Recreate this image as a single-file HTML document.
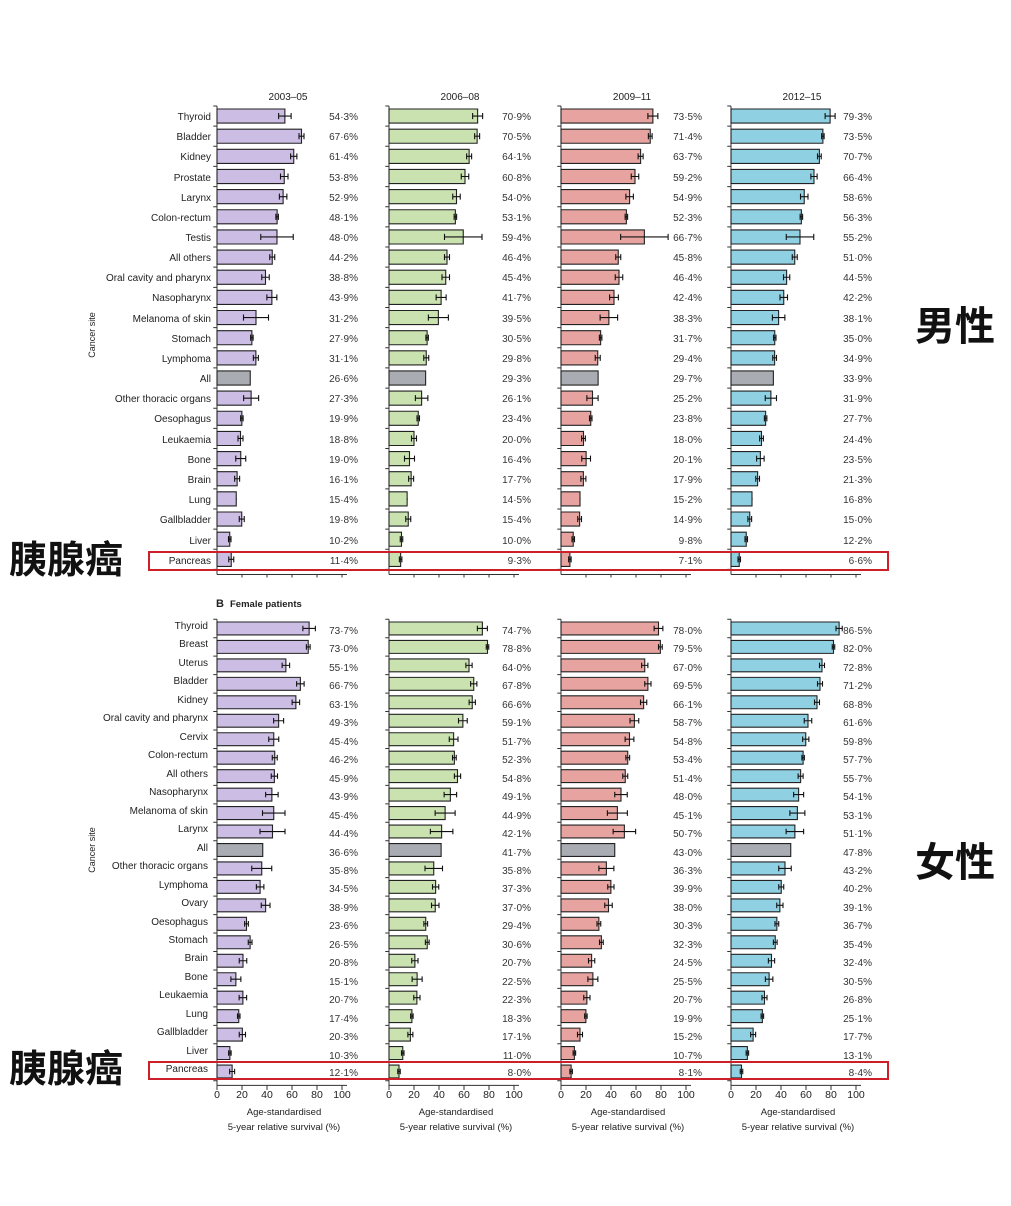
<!DOCTYPE html>
<html><head><meta charset="utf-8"><style>
html,body{margin:0;padding:0;background:#fff;}
svg{display:block;font-family:"Liberation Sans",Arial,sans-serif;}
.l{font-size:10px;fill:#222;text-anchor:end;}
.v{font-size:10px;fill:#333;text-anchor:end;}
.h{font-size:10px;fill:#222;text-anchor:middle;}
.bar{stroke:#222;stroke-width:1.1;vector-effect:non-scaling-stroke;}
.eb{stroke:#111;stroke-width:1.1;fill:none;vector-effect:non-scaling-stroke;}
.ax{stroke:#333;stroke-width:1;fill:none;vector-effect:non-scaling-stroke;}
.cn{font-family:"Noto Sans CJK SC","WenQuanYi Zen Hei",sans-serif;font-weight:bold;fill:#111;}
</style></head><body>
<svg width="1011" height="1206" viewBox="0 0 1011 1206" xmlns="http://www.w3.org/2000/svg">
<rect width="1011" height="1206" fill="#fff"/>

<!-- headers -->
<text class="h" x="288" y="100">2003–05</text>
<text class="h" x="460" y="100">2006–08</text>
<text class="h" x="632" y="100">2009–11</text>
<text class="h" x="802" y="100">2012–15</text>

<!-- male labels -->
<text class="l">
<tspan x="211" y="120">Thyroid</tspan><tspan x="211" y="140">Bladder</tspan><tspan x="211" y="160">Kidney</tspan><tspan x="211" y="181">Prostate</tspan><tspan x="211" y="201">Larynx</tspan><tspan x="211" y="221">Colon-rectum</tspan><tspan x="211" y="241">Testis</tspan><tspan x="211" y="261">All others</tspan><tspan x="211" y="281">Oral cavity and pharynx</tspan><tspan x="211" y="301">Nasopharynx</tspan><tspan x="211" y="322">Melanoma of skin</tspan><tspan x="211" y="342">Stomach</tspan><tspan x="211" y="362">Lymphoma</tspan><tspan x="211" y="382">All</tspan><tspan x="211" y="402">Other thoracic organs</tspan><tspan x="211" y="422">Oesophagus</tspan><tspan x="211" y="443">Leukaemia</tspan><tspan x="211" y="463">Bone</tspan><tspan x="211" y="483">Brain</tspan><tspan x="211" y="503">Lung</tspan><tspan x="211" y="523">Gallbladder</tspan><tspan x="211" y="544">Liver</tspan><tspan x="211" y="564">Pancreas</tspan>
</text>
<text class="h" transform="translate(95,335) rotate(-90)" style="font-size:9px">Cancer site</text>

<!-- male panels -->
<g transform="translate(217,109) scale(1.25,20.15)">
<path class="ax" d="M0 -.15V23.1M0 -.15h-3M0 .85h-3M0 1.85h-3M0 2.85h-3M0 3.85h-3M0 4.85h-3M0 5.85h-3M0 6.85h-3M0 7.85h-3M0 8.85h-3M0 9.85h-3M0 10.85h-3M0 11.85h-3M0 12.85h-3M0 13.85h-3M0 14.85h-3M0 15.85h-3M0 16.85h-3M0 17.85h-3M0 18.85h-3M0 19.85h-3M0 20.85h-3M0 21.85h-3M0 22.85h-3M0 23.1H104M20 23.1v.15M40 23.1v.15M60 23.1v.15M80 23.1v.15M100 23.1v.15"/>
<path class="bar" fill="#cbbde3" d="M0 0H54.3v.7H0zM0 1H67.6v.7H0zM0 2H61.4v.7H0zM0 3H53.8v.7H0zM0 4H52.9v.7H0zM0 5H48.1v.7H0zM0 6H48v.7H0zM0 7H44.2v.7H0zM0 8H38.8v.7H0zM0 9H43.9v.7H0zM0 10H31.2v.7H0zM0 11H27.9v.7H0zM0 12H31.1v.7H0zM0 14H27.3v.7H0zM0 15H19.9v.7H0zM0 16H18.8v.7H0zM0 17H19v.7H0zM0 18H16.1v.7H0zM0 19H15.4v.7H0zM0 20H19.8v.7H0zM0 21H10.2v.7H0zM0 22H11.4v.7H0z"/>
<path class="bar" fill="#a9adb3" d="M0 13H26.6v.7H0z"/>
<path class="eb" d="M54.3 .35h5m0-.15v.3M54.3 .35h-5m0-.15v.3M67.6 1.35h2m0-.15v.3M67.6 1.35h-2m0-.15v.3M61.4 2.35h2.5m0-.15v.3M61.4 2.35h-2.5m0-.15v.3M53.8 3.35h3m0-.15v.3M53.8 3.35h-3m0-.15v.3M52.9 4.35h3m0-.15v.3M52.9 4.35h-3m0-.15v.3M48.1 5.35h1m0-.15v.3M48.1 5.35h-1m0-.15v.3M48 6.35h13m0-.15v.3M48 6.35h-13m0-.15v.3M44.2 7.35h2m0-.15v.3M44.2 7.35h-2m0-.15v.3M38.8 8.35h3m0-.15v.3M38.8 8.35h-3m0-.15v.3M43.9 9.35h4m0-.15v.3M43.9 9.35h-4m0-.15v.3M31.2 10.35h10m0-.15v.3M31.2 10.35h-10m0-.15v.3M27.9 11.35h1m0-.15v.3M27.9 11.35h-1m0-.15v.3M31.1 12.35h2m0-.15v.3M31.1 12.35h-2m0-.15v.3M27.3 14.35h6m0-.15v.3M27.3 14.35h-6m0-.15v.3M19.9 15.35h1m0-.15v.3M19.9 15.35h-1m0-.15v.3M18.8 16.35h2m0-.15v.3M18.8 16.35h-2m0-.15v.3M19 17.35h4m0-.15v.3M19 17.35h-4m0-.15v.3M16.1 18.35h2m0-.15v.3M16.1 18.35h-2m0-.15v.3M15.4 19.35h.5M19.8 20.35h2m0-.15v.3M19.8 20.35h-2m0-.15v.3M10.2 21.35h1m0-.15v.3M10.2 21.35h-1m0-.15v.3M11.4 22.35h2m0-.15v.3M11.4 22.35h-2m0-.15v.3"/>
</g>
<g transform="translate(389,109) scale(1.25,20.15)">
<path class="ax" d="M0 -.15V23.1M0 -.15h-3M0 .85h-3M0 1.85h-3M0 2.85h-3M0 3.85h-3M0 4.85h-3M0 5.85h-3M0 6.85h-3M0 7.85h-3M0 8.85h-3M0 9.85h-3M0 10.85h-3M0 11.85h-3M0 12.85h-3M0 13.85h-3M0 14.85h-3M0 15.85h-3M0 16.85h-3M0 17.85h-3M0 18.85h-3M0 19.85h-3M0 20.85h-3M0 21.85h-3M0 22.85h-3M0 23.1H104M20 23.1v.15M40 23.1v.15M60 23.1v.15M80 23.1v.15M100 23.1v.15"/>
<path class="bar" fill="#c9e2b0" d="M0 0H70.9v.7H0zM0 1H70.5v.7H0zM0 2H64.1v.7H0zM0 3H60.8v.7H0zM0 4H54v.7H0zM0 5H53.1v.7H0zM0 6H59.4v.7H0zM0 7H46.4v.7H0zM0 8H45.4v.7H0zM0 9H41.7v.7H0zM0 10H39.5v.7H0zM0 11H30.5v.7H0zM0 12H29.8v.7H0zM0 14H26.1v.7H0zM0 15H23.4v.7H0zM0 16H20v.7H0zM0 17H16.4v.7H0zM0 18H17.7v.7H0zM0 19H14.5v.7H0zM0 20H15.4v.7H0zM0 21H10v.7H0zM0 22H9.3v.7H0z"/>
<path class="bar" fill="#a9adb3" d="M0 13H29.3v.7H0z"/>
<path class="eb" d="M70.9 .35h4m0-.15v.3M70.9 .35h-4m0-.15v.3M70.5 1.35h2m0-.15v.3M70.5 1.35h-2m0-.15v.3M64.1 2.35h2m0-.15v.3M64.1 2.35h-2m0-.15v.3M60.8 3.35h3m0-.15v.3M60.8 3.35h-3m0-.15v.3M54 4.35h3m0-.15v.3M54 4.35h-3m0-.15v.3M53.1 5.35h1m0-.15v.3M53.1 5.35h-1m0-.15v.3M59.4 6.35h15m0-.15v.3M59.4 6.35h-15m0-.15v.3M46.4 7.35h2m0-.15v.3M46.4 7.35h-2m0-.15v.3M45.4 8.35h3m0-.15v.3M45.4 8.35h-3m0-.15v.3M41.7 9.35h4m0-.15v.3M41.7 9.35h-4m0-.15v.3M39.5 10.35h8m0-.15v.3M39.5 10.35h-8m0-.15v.3M30.5 11.35h1m0-.15v.3M30.5 11.35h-1m0-.15v.3M29.8 12.35h2m0-.15v.3M29.8 12.35h-2m0-.15v.3M26.1 14.35h5m0-.15v.3M26.1 14.35h-5m0-.15v.3M23.4 15.35h1m0-.15v.3M23.4 15.35h-1m0-.15v.3M20 16.35h2m0-.15v.3M20 16.35h-2m0-.15v.3M16.4 17.35h4m0-.15v.3M16.4 17.35h-4m0-.15v.3M17.7 18.35h2m0-.15v.3M17.7 18.35h-2m0-.15v.3M14.5 19.35h.5M15.4 20.35h2m0-.15v.3M15.4 20.35h-2m0-.15v.3M10 21.35h1m0-.15v.3M10 21.35h-1m0-.15v.3M9.3 22.35h1m0-.15v.3M9.3 22.35h-1m0-.15v.3"/>
</g>
<g transform="translate(561,109) scale(1.25,20.15)">
<path class="ax" d="M0 -.15V23.1M0 -.15h-3M0 .85h-3M0 1.85h-3M0 2.85h-3M0 3.85h-3M0 4.85h-3M0 5.85h-3M0 6.85h-3M0 7.85h-3M0 8.85h-3M0 9.85h-3M0 10.85h-3M0 11.85h-3M0 12.85h-3M0 13.85h-3M0 14.85h-3M0 15.85h-3M0 16.85h-3M0 17.85h-3M0 18.85h-3M0 19.85h-3M0 20.85h-3M0 21.85h-3M0 22.85h-3M0 23.1H104M20 23.1v.15M40 23.1v.15M60 23.1v.15M80 23.1v.15M100 23.1v.15"/>
<path class="bar" fill="#e6a3a0" d="M0 0H73.5v.7H0zM0 1H71.4v.7H0zM0 2H63.7v.7H0zM0 3H59.2v.7H0zM0 4H54.9v.7H0zM0 5H52.3v.7H0zM0 6H66.7v.7H0zM0 7H45.8v.7H0zM0 8H46.4v.7H0zM0 9H42.4v.7H0zM0 10H38.3v.7H0zM0 11H31.7v.7H0zM0 12H29.4v.7H0zM0 14H25.2v.7H0zM0 15H23.8v.7H0zM0 16H18v.7H0zM0 17H20.1v.7H0zM0 18H17.9v.7H0zM0 19H15.2v.7H0zM0 20H14.9v.7H0zM0 21H9.8v.7H0zM0 22H7.1v.7H0z"/>
<path class="bar" fill="#a9adb3" d="M0 13H29.7v.7H0z"/>
<path class="eb" d="M73.5 .35h4m0-.15v.3M73.5 .35h-4m0-.15v.3M71.4 1.35h1.5m0-.15v.3M71.4 1.35h-1.5m0-.15v.3M63.7 2.35h2m0-.15v.3M63.7 2.35h-2m0-.15v.3M59.2 3.35h3m0-.15v.3M59.2 3.35h-3m0-.15v.3M54.9 4.35h3m0-.15v.3M54.9 4.35h-3m0-.15v.3M52.3 5.35h1m0-.15v.3M52.3 5.35h-1m0-.15v.3M66.7 6.35h19m0-.15v.3M66.7 6.35h-19m0-.15v.3M45.8 7.35h2m0-.15v.3M45.8 7.35h-2m0-.15v.3M46.4 8.35h3m0-.15v.3M46.4 8.35h-3m0-.15v.3M42.4 9.35h3.5m0-.15v.3M42.4 9.35h-3.5m0-.15v.3M38.3 10.35h7m0-.15v.3M38.3 10.35h-7m0-.15v.3M31.7 11.35h1m0-.15v.3M31.7 11.35h-1m0-.15v.3M29.4 12.35h2m0-.15v.3M29.4 12.35h-2m0-.15v.3M25.2 14.35h4.5m0-.15v.3M25.2 14.35h-4.5m0-.15v.3M23.8 15.35h1m0-.15v.3M23.8 15.35h-1m0-.15v.3M18 16.35h1.5m0-.15v.3M18 16.35h-1.5m0-.15v.3M20.1 17.35h3.5m0-.15v.3M20.1 17.35h-3.5m0-.15v.3M17.9 18.35h2m0-.15v.3M17.9 18.35h-2m0-.15v.3M15.2 19.35h.5M14.9 20.35h1.5m0-.15v.3M14.9 20.35h-1.5m0-.15v.3M9.8 21.35h1m0-.15v.3M9.8 21.35h-1m0-.15v.3M7.1 22.35h1m0-.15v.3M7.1 22.35h-1m0-.15v.3"/>
</g>
<g transform="translate(731,109) scale(1.25,20.15)">
<path class="ax" d="M0 -.15V23.1M0 -.15h-3M0 .85h-3M0 1.85h-3M0 2.85h-3M0 3.85h-3M0 4.85h-3M0 5.85h-3M0 6.85h-3M0 7.85h-3M0 8.85h-3M0 9.85h-3M0 10.85h-3M0 11.85h-3M0 12.85h-3M0 13.85h-3M0 14.85h-3M0 15.85h-3M0 16.85h-3M0 17.85h-3M0 18.85h-3M0 19.85h-3M0 20.85h-3M0 21.85h-3M0 22.85h-3M0 23.1H104M20 23.1v.15M40 23.1v.15M60 23.1v.15M80 23.1v.15M100 23.1v.15"/>
<path class="bar" fill="#8fd0e2" d="M0 0H79.3v.7H0zM0 1H73.5v.7H0zM0 2H70.7v.7H0zM0 3H66.4v.7H0zM0 4H58.6v.7H0zM0 5H56.3v.7H0zM0 6H55.2v.7H0zM0 7H51v.7H0zM0 8H44.5v.7H0zM0 9H42.2v.7H0zM0 10H38.1v.7H0zM0 11H35v.7H0zM0 12H34.9v.7H0zM0 14H31.9v.7H0zM0 15H27.7v.7H0zM0 16H24.4v.7H0zM0 17H23.5v.7H0zM0 18H21.3v.7H0zM0 19H16.8v.7H0zM0 20H15v.7H0zM0 21H12.2v.7H0zM0 22H6.6v.7H0z"/>
<path class="bar" fill="#a9adb3" d="M0 13H33.9v.7H0z"/>
<path class="eb" d="M79.3 .35h4m0-.15v.3M79.3 .35h-4m0-.15v.3M73.5 1.35h1m0-.15v.3M73.5 1.35h-1m0-.15v.3M70.7 2.35h1.5m0-.15v.3M70.7 2.35h-1.5m0-.15v.3M66.4 3.35h2.5m0-.15v.3M66.4 3.35h-2.5m0-.15v.3M58.6 4.35h3m0-.15v.3M58.6 4.35h-3m0-.15v.3M56.3 5.35h1m0-.15v.3M56.3 5.35h-1m0-.15v.3M55.2 6.35h11m0-.15v.3M55.2 6.35h-11m0-.15v.3M51 7.35h2m0-.15v.3M51 7.35h-2m0-.15v.3M44.5 8.35h2.5m0-.15v.3M44.5 8.35h-2.5m0-.15v.3M42.2 9.35h3m0-.15v.3M42.2 9.35h-3m0-.15v.3M38.1 10.35h5m0-.15v.3M38.1 10.35h-5m0-.15v.3M35 11.35h1m0-.15v.3M35 11.35h-1m0-.15v.3M34.9 12.35h1.5m0-.15v.3M34.9 12.35h-1.5m0-.15v.3M31.9 14.35h4.5m0-.15v.3M31.9 14.35h-4.5m0-.15v.3M27.7 15.35h1m0-.15v.3M27.7 15.35h-1m0-.15v.3M24.4 16.35h1.5m0-.15v.3M24.4 16.35h-1.5m0-.15v.3M23.5 17.35h3m0-.15v.3M23.5 17.35h-3m0-.15v.3M21.3 18.35h1.5m0-.15v.3M21.3 18.35h-1.5m0-.15v.3M16.8 19.35h.5M15 20.35h1.5m0-.15v.3M15 20.35h-1.5m0-.15v.3M12.2 21.35h1m0-.15v.3M12.2 21.35h-1m0-.15v.3M6.6 22.35h1m0-.15v.3M6.6 22.35h-1m0-.15v.3"/>
</g>

<!-- male values -->
<text class="v">
<tspan x="358" y="120">54·3%</tspan><tspan x="358" y="140">67·6%</tspan><tspan x="358" y="160">61·4%</tspan><tspan x="358" y="181">53·8%</tspan><tspan x="358" y="201">52·9%</tspan><tspan x="358" y="221">48·1%</tspan><tspan x="358" y="241">48·0%</tspan><tspan x="358" y="261">44·2%</tspan><tspan x="358" y="281">38·8%</tspan><tspan x="358" y="301">43·9%</tspan><tspan x="358" y="322">31·2%</tspan><tspan x="358" y="342">27·9%</tspan><tspan x="358" y="362">31·1%</tspan><tspan x="358" y="382">26·6%</tspan><tspan x="358" y="402">27·3%</tspan><tspan x="358" y="422">19·9%</tspan><tspan x="358" y="443">18·8%</tspan><tspan x="358" y="463">19·0%</tspan><tspan x="358" y="483">16·1%</tspan><tspan x="358" y="503">15·4%</tspan><tspan x="358" y="523">19·8%</tspan><tspan x="358" y="544">10·2%</tspan><tspan x="358" y="564">11·4%</tspan>
</text>
<text class="v">
<tspan x="531" y="120">70·9%</tspan><tspan x="531" y="140">70·5%</tspan><tspan x="531" y="160">64·1%</tspan><tspan x="531" y="181">60·8%</tspan><tspan x="531" y="201">54·0%</tspan><tspan x="531" y="221">53·1%</tspan><tspan x="531" y="241">59·4%</tspan><tspan x="531" y="261">46·4%</tspan><tspan x="531" y="281">45·4%</tspan><tspan x="531" y="301">41·7%</tspan><tspan x="531" y="322">39·5%</tspan><tspan x="531" y="342">30·5%</tspan><tspan x="531" y="362">29·8%</tspan><tspan x="531" y="382">29·3%</tspan><tspan x="531" y="402">26·1%</tspan><tspan x="531" y="422">23·4%</tspan><tspan x="531" y="443">20·0%</tspan><tspan x="531" y="463">16·4%</tspan><tspan x="531" y="483">17·7%</tspan><tspan x="531" y="503">14·5%</tspan><tspan x="531" y="523">15·4%</tspan><tspan x="531" y="544">10·0%</tspan><tspan x="531" y="564">9·3%</tspan>
</text>
<text class="v">
<tspan x="702" y="120">73·5%</tspan><tspan x="702" y="140">71·4%</tspan><tspan x="702" y="160">63·7%</tspan><tspan x="702" y="181">59·2%</tspan><tspan x="702" y="201">54·9%</tspan><tspan x="702" y="221">52·3%</tspan><tspan x="702" y="241">66·7%</tspan><tspan x="702" y="261">45·8%</tspan><tspan x="702" y="281">46·4%</tspan><tspan x="702" y="301">42·4%</tspan><tspan x="702" y="322">38·3%</tspan><tspan x="702" y="342">31·7%</tspan><tspan x="702" y="362">29·4%</tspan><tspan x="702" y="382">29·7%</tspan><tspan x="702" y="402">25·2%</tspan><tspan x="702" y="422">23·8%</tspan><tspan x="702" y="443">18·0%</tspan><tspan x="702" y="463">20·1%</tspan><tspan x="702" y="483">17·9%</tspan><tspan x="702" y="503">15·2%</tspan><tspan x="702" y="523">14·9%</tspan><tspan x="702" y="544">9·8%</tspan><tspan x="702" y="564">7·1%</tspan>
</text>
<text class="v">
<tspan x="872" y="120">79·3%</tspan><tspan x="872" y="140">73·5%</tspan><tspan x="872" y="160">70·7%</tspan><tspan x="872" y="181">66·4%</tspan><tspan x="872" y="201">58·6%</tspan><tspan x="872" y="221">56·3%</tspan><tspan x="872" y="241">55·2%</tspan><tspan x="872" y="261">51·0%</tspan><tspan x="872" y="281">44·5%</tspan><tspan x="872" y="301">42·2%</tspan><tspan x="872" y="322">38·1%</tspan><tspan x="872" y="342">35·0%</tspan><tspan x="872" y="362">34·9%</tspan><tspan x="872" y="382">33·9%</tspan><tspan x="872" y="402">31·9%</tspan><tspan x="872" y="422">27·7%</tspan><tspan x="872" y="443">24·4%</tspan><tspan x="872" y="463">23·5%</tspan><tspan x="872" y="483">21·3%</tspan><tspan x="872" y="503">16·8%</tspan><tspan x="872" y="523">15·0%</tspan><tspan x="872" y="544">12·2%</tspan><tspan x="872" y="564">6·6%</tspan>
</text>

<!-- female header -->
<text x="216" y="607" style="font-size:11px;font-weight:bold;fill:#222">B</text>
<text x="230" y="607" style="font-size:9.5px;font-weight:bold;fill:#222">Female patients</text>

<!-- female labels -->
<text class="l">
<tspan x="208" y="629">Thyroid</tspan><tspan x="208" y="647">Breast</tspan><tspan x="208" y="666">Uterus</tspan><tspan x="208" y="684">Bladder</tspan><tspan x="208" y="703">Kidney</tspan><tspan x="208" y="721">Oral cavity and pharynx</tspan><tspan x="208" y="740">Cervix</tspan><tspan x="208" y="758">Colon-rectum</tspan><tspan x="208" y="777">All others</tspan><tspan x="208" y="795">Nasopharynx</tspan><tspan x="208" y="814">Melanoma of skin</tspan><tspan x="208" y="832">Larynx</tspan><tspan x="208" y="851">All</tspan><tspan x="208" y="869">Other thoracic organs</tspan><tspan x="208" y="888">Lymphoma</tspan><tspan x="208" y="906">Ovary</tspan><tspan x="208" y="925">Oesophagus</tspan><tspan x="208" y="943">Stomach</tspan><tspan x="208" y="961">Brain</tspan><tspan x="208" y="980">Bone</tspan><tspan x="208" y="998">Leukaemia</tspan><tspan x="208" y="1017">Lung</tspan><tspan x="208" y="1035">Gallbladder</tspan><tspan x="208" y="1054">Liver</tspan><tspan x="208" y="1072">Pancreas</tspan>
</text>
<text class="h" transform="translate(95,850) rotate(-90)" style="font-size:9px">Cancer site</text>

<!-- female panels -->
<g transform="translate(217,622) scale(1.25,18.46)">
<path class="ax" d="M0 -.15V25.1M0 -.15h-3M0 .85h-3M0 1.85h-3M0 2.85h-3M0 3.85h-3M0 4.85h-3M0 5.85h-3M0 6.85h-3M0 7.85h-3M0 8.85h-3M0 9.85h-3M0 10.85h-3M0 11.85h-3M0 12.85h-3M0 13.85h-3M0 14.85h-3M0 15.85h-3M0 16.85h-3M0 17.85h-3M0 18.85h-3M0 19.85h-3M0 20.85h-3M0 21.85h-3M0 22.85h-3M0 23.85h-3M0 24.85h-3M0 25.1H104M0 25.1v.25M20 25.1v.25M40 25.1v.25M60 25.1v.25M80 25.1v.25M100 25.1v.25"/>
<path class="bar" fill="#cbbde3" d="M0 0H73.7v.7H0zM0 1H73v.7H0zM0 2H55.1v.7H0zM0 3H66.7v.7H0zM0 4H63.1v.7H0zM0 5H49.3v.7H0zM0 6H45.4v.7H0zM0 7H46.2v.7H0zM0 8H45.9v.7H0zM0 9H43.9v.7H0zM0 10H45.4v.7H0zM0 11H44.4v.7H0zM0 13H35.8v.7H0zM0 14H34.5v.7H0zM0 15H38.9v.7H0zM0 16H23.6v.7H0zM0 17H26.5v.7H0zM0 18H20.8v.7H0zM0 19H15.1v.7H0zM0 20H20.7v.7H0zM0 21H17.4v.7H0zM0 22H20.3v.7H0zM0 23H10.3v.7H0zM0 24H12.1v.7H0z"/>
<path class="bar" fill="#a9adb3" d="M0 12H36.6v.7H0z"/>
<path class="eb" d="M73.7 .35h5m0-.15v.3M73.7 .35h-5m0-.15v.3M73 1.35h1.5m0-.15v.3M73 1.35h-1.5m0-.15v.3M55.1 2.35h3m0-.15v.3M55.1 2.35h-3m0-.15v.3M66.7 3.35h3m0-.15v.3M66.7 3.35h-3m0-.15v.3M63.1 4.35h3m0-.15v.3M63.1 4.35h-3m0-.15v.3M49.3 5.35h4m0-.15v.3M49.3 5.35h-4m0-.15v.3M45.4 6.35h4m0-.15v.3M45.4 6.35h-4m0-.15v.3M46.2 7.35h2m0-.15v.3M46.2 7.35h-2m0-.15v.3M45.9 8.35h2.5m0-.15v.3M45.9 8.35h-2.5m0-.15v.3M43.9 9.35h5m0-.15v.3M43.9 9.35h-5m0-.15v.3M45.4 10.35h9m0-.15v.3M45.4 10.35h-9m0-.15v.3M44.4 11.35h10m0-.15v.3M44.4 11.35h-10m0-.15v.3M35.8 13.35h8m0-.15v.3M35.8 13.35h-8m0-.15v.3M34.5 14.35h3m0-.15v.3M34.5 14.35h-3m0-.15v.3M38.9 15.35h3.5m0-.15v.3M38.9 15.35h-3.5m0-.15v.3M23.6 16.35h1.5m0-.15v.3M23.6 16.35h-1.5m0-.15v.3M26.5 17.35h1.5m0-.15v.3M26.5 17.35h-1.5m0-.15v.3M20.8 18.35h3m0-.15v.3M20.8 18.35h-3m0-.15v.3M15.1 19.35h4m0-.15v.3M15.1 19.35h-4m0-.15v.3M20.7 20.35h3m0-.15v.3M20.7 20.35h-3m0-.15v.3M17.4 21.35h1m0-.15v.3M17.4 21.35h-1m0-.15v.3M20.3 22.35h2.5m0-.15v.3M20.3 22.35h-2.5m0-.15v.3M10.3 23.35h1m0-.15v.3M10.3 23.35h-1m0-.15v.3M12.1 24.35h2m0-.15v.3M12.1 24.35h-2m0-.15v.3"/>
</g>
<g transform="translate(389,622) scale(1.25,18.46)">
<path class="ax" d="M0 -.15V25.1M0 -.15h-3M0 .85h-3M0 1.85h-3M0 2.85h-3M0 3.85h-3M0 4.85h-3M0 5.85h-3M0 6.85h-3M0 7.85h-3M0 8.85h-3M0 9.85h-3M0 10.85h-3M0 11.85h-3M0 12.85h-3M0 13.85h-3M0 14.85h-3M0 15.85h-3M0 16.85h-3M0 17.85h-3M0 18.85h-3M0 19.85h-3M0 20.85h-3M0 21.85h-3M0 22.85h-3M0 23.85h-3M0 24.85h-3M0 25.1H104M0 25.1v.25M20 25.1v.25M40 25.1v.25M60 25.1v.25M80 25.1v.25M100 25.1v.25"/>
<path class="bar" fill="#c9e2b0" d="M0 0H74.7v.7H0zM0 1H78.8v.7H0zM0 2H64v.7H0zM0 3H67.8v.7H0zM0 4H66.6v.7H0zM0 5H59.1v.7H0zM0 6H51.7v.7H0zM0 7H52.3v.7H0zM0 8H54.8v.7H0zM0 9H49.1v.7H0zM0 10H44.9v.7H0zM0 11H42.1v.7H0zM0 13H35.8v.7H0zM0 14H37.3v.7H0zM0 15H37v.7H0zM0 16H29.4v.7H0zM0 17H30.6v.7H0zM0 18H20.7v.7H0zM0 19H22.5v.7H0zM0 20H22.3v.7H0zM0 21H18.3v.7H0zM0 22H17.1v.7H0zM0 23H11v.7H0zM0 24H8v.7H0z"/>
<path class="bar" fill="#a9adb3" d="M0 12H41.7v.7H0z"/>
<path class="eb" d="M74.7 .35h4m0-.15v.3M74.7 .35h-4m0-.15v.3M78.8 1.35h1m0-.15v.3M78.8 1.35h-1m0-.15v.3M64 2.35h2.5m0-.15v.3M64 2.35h-2.5m0-.15v.3M67.8 3.35h2.5m0-.15v.3M67.8 3.35h-2.5m0-.15v.3M66.6 4.35h2.5m0-.15v.3M66.6 4.35h-2.5m0-.15v.3M59.1 5.35h3.5m0-.15v.3M59.1 5.35h-3.5m0-.15v.3M51.7 6.35h3.5m0-.15v.3M51.7 6.35h-3.5m0-.15v.3M52.3 7.35h1.5m0-.15v.3M52.3 7.35h-1.5m0-.15v.3M54.8 8.35h2.5m0-.15v.3M54.8 8.35h-2.5m0-.15v.3M49.1 9.35h5m0-.15v.3M49.1 9.35h-5m0-.15v.3M44.9 10.35h8m0-.15v.3M44.9 10.35h-8m0-.15v.3M42.1 11.35h9m0-.15v.3M42.1 11.35h-9m0-.15v.3M35.8 13.35h7m0-.15v.3M35.8 13.35h-7m0-.15v.3M37.3 14.35h2.5m0-.15v.3M37.3 14.35h-2.5m0-.15v.3M37 15.35h3m0-.15v.3M37 15.35h-3m0-.15v.3M29.4 16.35h1.5m0-.15v.3M29.4 16.35h-1.5m0-.15v.3M30.6 17.35h1.5m0-.15v.3M30.6 17.35h-1.5m0-.15v.3M20.7 18.35h2.5m0-.15v.3M20.7 18.35h-2.5m0-.15v.3M22.5 19.35h4m0-.15v.3M22.5 19.35h-4m0-.15v.3M22.3 20.35h2.5m0-.15v.3M22.3 20.35h-2.5m0-.15v.3M18.3 21.35h1m0-.15v.3M18.3 21.35h-1m0-.15v.3M17.1 22.35h2m0-.15v.3M17.1 22.35h-2m0-.15v.3M11 23.35h1m0-.15v.3M11 23.35h-1m0-.15v.3M8 24.35h1m0-.15v.3M8 24.35h-1m0-.15v.3"/>
</g>
<g transform="translate(561,622) scale(1.25,18.46)">
<path class="ax" d="M0 -.15V25.1M0 -.15h-3M0 .85h-3M0 1.85h-3M0 2.85h-3M0 3.85h-3M0 4.85h-3M0 5.85h-3M0 6.85h-3M0 7.85h-3M0 8.85h-3M0 9.85h-3M0 10.85h-3M0 11.85h-3M0 12.85h-3M0 13.85h-3M0 14.85h-3M0 15.85h-3M0 16.85h-3M0 17.85h-3M0 18.85h-3M0 19.85h-3M0 20.85h-3M0 21.85h-3M0 22.85h-3M0 23.85h-3M0 24.85h-3M0 25.1H104M0 25.1v.25M20 25.1v.25M40 25.1v.25M60 25.1v.25M80 25.1v.25M100 25.1v.25"/>
<path class="bar" fill="#e6a3a0" d="M0 0H78v.7H0zM0 1H79.5v.7H0zM0 2H67v.7H0zM0 3H69.5v.7H0zM0 4H66.1v.7H0zM0 5H58.7v.7H0zM0 6H54.8v.7H0zM0 7H53.4v.7H0zM0 8H51.4v.7H0zM0 9H48v.7H0zM0 10H45.1v.7H0zM0 11H50.7v.7H0zM0 13H36.3v.7H0zM0 14H39.9v.7H0zM0 15H38v.7H0zM0 16H30.3v.7H0zM0 17H32.3v.7H0zM0 18H24.5v.7H0zM0 19H25.5v.7H0zM0 20H20.7v.7H0zM0 21H19.9v.7H0zM0 22H15.2v.7H0zM0 23H10.7v.7H0zM0 24H8.1v.7H0z"/>
<path class="bar" fill="#a9adb3" d="M0 12H43v.7H0z"/>
<path class="eb" d="M78 .35h3.5m0-.15v.3M78 .35h-3.5m0-.15v.3M79.5 1.35h1.5m0-.15v.3M79.5 1.35h-1.5m0-.15v.3M67 2.35h2.5m0-.15v.3M67 2.35h-2.5m0-.15v.3M69.5 3.35h2.5m0-.15v.3M69.5 3.35h-2.5m0-.15v.3M66.1 4.35h2.5m0-.15v.3M66.1 4.35h-2.5m0-.15v.3M58.7 5.35h3.5m0-.15v.3M58.7 5.35h-3.5m0-.15v.3M54.8 6.35h3.5m0-.15v.3M54.8 6.35h-3.5m0-.15v.3M53.4 7.35h1.5m0-.15v.3M53.4 7.35h-1.5m0-.15v.3M51.4 8.35h2m0-.15v.3M51.4 8.35h-2m0-.15v.3M48 9.35h5m0-.15v.3M48 9.35h-5m0-.15v.3M45.1 10.35h8m0-.15v.3M45.1 10.35h-8m0-.15v.3M50.7 11.35h9m0-.15v.3M50.7 11.35h-9m0-.15v.3M36.3 13.35h6m0-.15v.3M36.3 13.35h-6m0-.15v.3M39.9 14.35h2.5m0-.15v.3M39.9 14.35h-2.5m0-.15v.3M38 15.35h3m0-.15v.3M38 15.35h-3m0-.15v.3M30.3 16.35h1.5m0-.15v.3M30.3 16.35h-1.5m0-.15v.3M32.3 17.35h1.5m0-.15v.3M32.3 17.35h-1.5m0-.15v.3M24.5 18.35h2.5m0-.15v.3M24.5 18.35h-2.5m0-.15v.3M25.5 19.35h4m0-.15v.3M25.5 19.35h-4m0-.15v.3M20.7 20.35h2.5m0-.15v.3M20.7 20.35h-2.5m0-.15v.3M19.9 21.35h1m0-.15v.3M19.9 21.35h-1m0-.15v.3M15.2 22.35h2m0-.15v.3M15.2 22.35h-2m0-.15v.3M10.7 23.35h1m0-.15v.3M10.7 23.35h-1m0-.15v.3M8.1 24.35h1m0-.15v.3M8.1 24.35h-1m0-.15v.3"/>
</g>
<g transform="translate(731,622) scale(1.25,18.46)">
<path class="ax" d="M0 -.15V25.1M0 -.15h-3M0 .85h-3M0 1.85h-3M0 2.85h-3M0 3.85h-3M0 4.85h-3M0 5.85h-3M0 6.85h-3M0 7.85h-3M0 8.85h-3M0 9.85h-3M0 10.85h-3M0 11.85h-3M0 12.85h-3M0 13.85h-3M0 14.85h-3M0 15.85h-3M0 16.85h-3M0 17.85h-3M0 18.85h-3M0 19.85h-3M0 20.85h-3M0 21.85h-3M0 22.85h-3M0 23.85h-3M0 24.85h-3M0 25.1H104M0 25.1v.25M20 25.1v.25M40 25.1v.25M60 25.1v.25M80 25.1v.25M100 25.1v.25"/>
<path class="bar" fill="#8fd0e2" d="M0 0H86.5v.7H0zM0 1H82v.7H0zM0 2H72.8v.7H0zM0 3H71.2v.7H0zM0 4H68.8v.7H0zM0 5H61.6v.7H0zM0 6H59.8v.7H0zM0 7H57.7v.7H0zM0 8H55.7v.7H0zM0 9H54.1v.7H0zM0 10H53.1v.7H0zM0 11H51.1v.7H0zM0 13H43.2v.7H0zM0 14H40.2v.7H0zM0 15H39.1v.7H0zM0 16H36.7v.7H0zM0 17H35.4v.7H0zM0 18H32.4v.7H0zM0 19H30.5v.7H0zM0 20H26.8v.7H0zM0 21H25.1v.7H0zM0 22H17.7v.7H0zM0 23H13.1v.7H0zM0 24H8.4v.7H0z"/>
<path class="bar" fill="#a9adb3" d="M0 12H47.8v.7H0z"/>
<path class="eb" d="M86.5 .35h2.5m0-.15v.3M86.5 .35h-2.5m0-.15v.3M82 1.35h1m0-.15v.3M82 1.35h-1m0-.15v.3M72.8 2.35h2m0-.15v.3M72.8 2.35h-2m0-.15v.3M71.2 3.35h2m0-.15v.3M71.2 3.35h-2m0-.15v.3M68.8 4.35h2m0-.15v.3M68.8 4.35h-2m0-.15v.3M61.6 5.35h3m0-.15v.3M61.6 5.35h-3m0-.15v.3M59.8 6.35h2.5m0-.15v.3M59.8 6.35h-2.5m0-.15v.3M57.7 7.35h1m0-.15v.3M57.7 7.35h-1m0-.15v.3M55.7 8.35h2m0-.15v.3M55.7 8.35h-2m0-.15v.3M54.1 9.35h4m0-.15v.3M54.1 9.35h-4m0-.15v.3M53.1 10.35h6m0-.15v.3M53.1 10.35h-6m0-.15v.3M51.1 11.35h7m0-.15v.3M51.1 11.35h-7m0-.15v.3M43.2 13.35h5m0-.15v.3M43.2 13.35h-5m0-.15v.3M40.2 14.35h2m0-.15v.3M40.2 14.35h-2m0-.15v.3M39.1 15.35h2.5m0-.15v.3M39.1 15.35h-2.5m0-.15v.3M36.7 16.35h1.5m0-.15v.3M36.7 16.35h-1.5m0-.15v.3M35.4 17.35h1.5m0-.15v.3M35.4 17.35h-1.5m0-.15v.3M32.4 18.35h2.5m0-.15v.3M32.4 18.35h-2.5m0-.15v.3M30.5 19.35h3m0-.15v.3M30.5 19.35h-3m0-.15v.3M26.8 20.35h2m0-.15v.3M26.8 20.35h-2m0-.15v.3M25.1 21.35h1m0-.15v.3M25.1 21.35h-1m0-.15v.3M17.7 22.35h2m0-.15v.3M17.7 22.35h-2m0-.15v.3M13.1 23.35h1m0-.15v.3M13.1 23.35h-1m0-.15v.3M8.4 24.35h1m0-.15v.3M8.4 24.35h-1m0-.15v.3"/>
</g>

<!-- female values -->
<text class="v">
<tspan x="358" y="634">73·7%</tspan><tspan x="358" y="652">73·0%</tspan><tspan x="358" y="671">55·1%</tspan><tspan x="358" y="689">66·7%</tspan><tspan x="358" y="708">63·1%</tspan><tspan x="358" y="726">49·3%</tspan><tspan x="358" y="745">45·4%</tspan><tspan x="358" y="763">46·2%</tspan><tspan x="358" y="782">45·9%</tspan><tspan x="358" y="800">43·9%</tspan><tspan x="358" y="819">45·4%</tspan><tspan x="358" y="837">44·4%</tspan><tspan x="358" y="856">36·6%</tspan><tspan x="358" y="874">35·8%</tspan><tspan x="358" y="892">34·5%</tspan><tspan x="358" y="911">38·9%</tspan><tspan x="358" y="929">23·6%</tspan><tspan x="358" y="948">26·5%</tspan><tspan x="358" y="966">20·8%</tspan><tspan x="358" y="985">15·1%</tspan><tspan x="358" y="1003">20·7%</tspan><tspan x="358" y="1022">17·4%</tspan><tspan x="358" y="1040">20·3%</tspan><tspan x="358" y="1059">10·3%</tspan><tspan x="358" y="1076">12·1%</tspan>
</text>
<text class="v">
<tspan x="531" y="634">74·7%</tspan><tspan x="531" y="652">78·8%</tspan><tspan x="531" y="671">64·0%</tspan><tspan x="531" y="689">67·8%</tspan><tspan x="531" y="708">66·6%</tspan><tspan x="531" y="726">59·1%</tspan><tspan x="531" y="745">51·7%</tspan><tspan x="531" y="763">52·3%</tspan><tspan x="531" y="782">54·8%</tspan><tspan x="531" y="800">49·1%</tspan><tspan x="531" y="819">44·9%</tspan><tspan x="531" y="837">42·1%</tspan><tspan x="531" y="856">41·7%</tspan><tspan x="531" y="874">35·8%</tspan><tspan x="531" y="892">37·3%</tspan><tspan x="531" y="911">37·0%</tspan><tspan x="531" y="929">29·4%</tspan><tspan x="531" y="948">30·6%</tspan><tspan x="531" y="966">20·7%</tspan><tspan x="531" y="985">22·5%</tspan><tspan x="531" y="1003">22·3%</tspan><tspan x="531" y="1022">18·3%</tspan><tspan x="531" y="1040">17·1%</tspan><tspan x="531" y="1059">11·0%</tspan><tspan x="531" y="1076">8·0%</tspan>
</text>
<text class="v">
<tspan x="702" y="634">78·0%</tspan><tspan x="702" y="652">79·5%</tspan><tspan x="702" y="671">67·0%</tspan><tspan x="702" y="689">69·5%</tspan><tspan x="702" y="708">66·1%</tspan><tspan x="702" y="726">58·7%</tspan><tspan x="702" y="745">54·8%</tspan><tspan x="702" y="763">53·4%</tspan><tspan x="702" y="782">51·4%</tspan><tspan x="702" y="800">48·0%</tspan><tspan x="702" y="819">45·1%</tspan><tspan x="702" y="837">50·7%</tspan><tspan x="702" y="856">43·0%</tspan><tspan x="702" y="874">36·3%</tspan><tspan x="702" y="892">39·9%</tspan><tspan x="702" y="911">38·0%</tspan><tspan x="702" y="929">30·3%</tspan><tspan x="702" y="948">32·3%</tspan><tspan x="702" y="966">24·5%</tspan><tspan x="702" y="985">25·5%</tspan><tspan x="702" y="1003">20·7%</tspan><tspan x="702" y="1022">19·9%</tspan><tspan x="702" y="1040">15·2%</tspan><tspan x="702" y="1059">10·7%</tspan><tspan x="702" y="1076">8·1%</tspan>
</text>
<text class="v">
<tspan x="872" y="634">86·5%</tspan><tspan x="872" y="652">82·0%</tspan><tspan x="872" y="671">72·8%</tspan><tspan x="872" y="689">71·2%</tspan><tspan x="872" y="708">68·8%</tspan><tspan x="872" y="726">61·6%</tspan><tspan x="872" y="745">59·8%</tspan><tspan x="872" y="763">57·7%</tspan><tspan x="872" y="782">55·7%</tspan><tspan x="872" y="800">54·1%</tspan><tspan x="872" y="819">53·1%</tspan><tspan x="872" y="837">51·1%</tspan><tspan x="872" y="856">47·8%</tspan><tspan x="872" y="874">43·2%</tspan><tspan x="872" y="892">40·2%</tspan><tspan x="872" y="911">39·1%</tspan><tspan x="872" y="929">36·7%</tspan><tspan x="872" y="948">35·4%</tspan><tspan x="872" y="966">32·4%</tspan><tspan x="872" y="985">30·5%</tspan><tspan x="872" y="1003">26·8%</tspan><tspan x="872" y="1022">25·1%</tspan><tspan x="872" y="1040">17·7%</tspan><tspan x="872" y="1059">13·1%</tspan><tspan x="872" y="1076">8·4%</tspan>
</text>

<!-- x tick labels and titles -->
<g class="h" style="font-size:10.5px">
<text x="217" y="1098">0</text><text x="242" y="1098">20</text><text x="267" y="1098">40</text><text x="292" y="1098">60</text><text x="317" y="1098">80</text><text x="342" y="1098">100</text>
<text x="389" y="1098">0</text><text x="414" y="1098">20</text><text x="439" y="1098">40</text><text x="464" y="1098">60</text><text x="489" y="1098">80</text><text x="514" y="1098">100</text>
<text x="561" y="1098">0</text><text x="586" y="1098">20</text><text x="611" y="1098">40</text><text x="636" y="1098">60</text><text x="661" y="1098">80</text><text x="686" y="1098">100</text>
<text x="731" y="1098">0</text><text x="756" y="1098">20</text><text x="781" y="1098">40</text><text x="806" y="1098">60</text><text x="831" y="1098">80</text><text x="856" y="1098">100</text>
</g>
<g class="h" style="font-size:9.5px">
<text x="284" y="1115">Age-standardised</text><text x="284" y="1130">5-year relative survival (%)</text>
<text x="456" y="1115">Age-standardised</text><text x="456" y="1130">5-year relative survival (%)</text>
<text x="628" y="1115">Age-standardised</text><text x="628" y="1130">5-year relative survival (%)</text>
<text x="798" y="1115">Age-standardised</text><text x="798" y="1130">5-year relative survival (%)</text>
</g>

<!-- red boxes -->
<rect x="149" y="552" width="739" height="18" fill="none" stroke="#cc1f2a" stroke-width="2"/>
<rect x="149" y="1062" width="739" height="17" fill="none" stroke="#cc1f2a" stroke-width="2"/>

<!-- Chinese annotations -->
<text class="cn" x="9" y="573" style="font-size:38px">胰腺癌</text>
<text class="cn" x="9" y="1082" style="font-size:38px">胰腺癌</text>
<text class="cn" x="915" y="340" style="font-size:40px">男性</text>
<text class="cn" x="915" y="876" style="font-size:40px">女性</text>
</svg>
</body></html>
